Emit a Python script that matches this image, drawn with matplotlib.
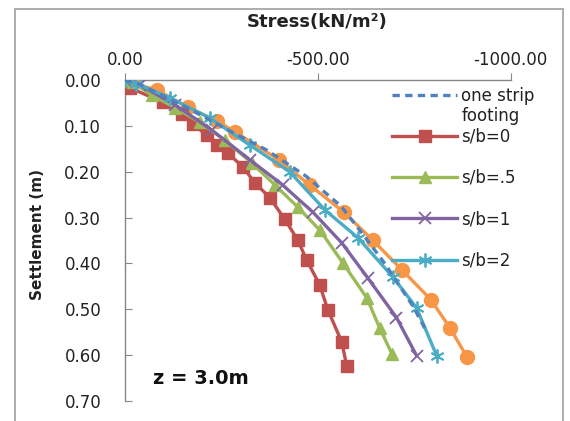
import matplotlib
matplotlib.use("Agg")
import matplotlib.pyplot as plt
from matplotlib.patches import Rectangle

# values
strip_stress = [0, -40, -160, -270, -368, -470, -560, -614, -676, -712, -748, -782]
strip_settle = [0, 0.01, 0.06, 0.11, 0.153, 0.21, 0.275, 0.333, 0.403, 0.449, 0.495, 0.549]

sb0_stress = [0, -13, -98, -148, -176, -212, -238, -267, -306, -337, -376, -414, -448, -471, -505, -526, -562, -575]
sb0_settle = [0, 0.017, 0.048, 0.074, 0.096, 0.12, 0.142, 0.159, 0.19, 0.224, 0.257, 0.303, 0.349, 0.392, 0.447, 0.501, 0.571, 0.623]

sb05_stress = [0, -20, -70, -130, -194, -259, -329, -389, -448, -505, -565, -627, -660, -692]
sb05_settle = [0, 0.005, 0.033, 0.06, 0.092, 0.131, 0.181, 0.229, 0.277, 0.327, 0.399, 0.475, 0.54, 0.597]

sb1_stress = [0, -39, -130, -225, -324, -409, -487, -562, -629, -704, -756]
sb1_settle = [0, 0.011, 0.054, 0.109, 0.174, 0.229, 0.288, 0.355, 0.431, 0.518, 0.601]

sb2_stress = [0, -30, -117, -220, -324, -427, -518, -604, -694, -756, -808]
sb2_settle = [0, 0.008, 0.039, 0.083, 0.142, 0.2, 0.283, 0.344, 0.429, 0.497, 0.601]

sb4_stress = [0, -21, -83, -163, -238, -285, -399, -479, -567, -642, -718, -793, -842, -886]
sb4_settle = [0, 0.007, 0.022, 0.059, 0.089, 0.113, 0.174, 0.229, 0.288, 0.349, 0.414, 0.479, 0.54, 0.603]

x_ticks = [0, -500, -1000]
y_ticks = [0, 0.1, 0.2, 0.3, 0.4, 0.5, 0.6, 0.7]

fig = plt.figure(figsize=(5.7, 4.21), dpi=100)
ax = fig.add_axes([0.219, 0.0475, 0.677, 0.7625])

lw = 2.4
ax.plot(sb4_stress, sb4_settle, color="#F79646", lw=lw, marker="o", ms=10, zorder=3)
ax.plot(sb0_stress, sb0_settle, color="#C0504D", lw=lw, marker="s", ms=8.5, label="s/b=0", zorder=4)
ax.plot(sb05_stress, sb05_settle, color="#9BBB59", lw=lw, marker="^", ms=9, label="s/b=.5", zorder=4)
ax.plot(sb1_stress, sb1_settle, color="#8064A2", lw=lw, marker="x", ms=9, mew=1.3, label="s/b=1", zorder=4)
ax.plot(sb2_stress, sb2_settle, color="#4BACC6", lw=lw, marker=(6, 2, 0), ms=10, mew=1.3, label="s/b=2", zorder=4)
strip_line, = ax.plot(strip_stress, strip_settle, color="#4F81BD", lw=lw, ls=(0, (2.2, 1.6)),
                      zorder=5)

ax.set_xlim(0, -1000)
ax.set_ylim(0.7, 0)
ax.set_xticks(x_ticks)
ax.set_xticklabels(["%.2f" % v for v in x_ticks])
ax.set_yticks(y_ticks)
ax.set_yticklabels(["%.2f" % v for v in y_ticks])
ax.xaxis.tick_top()
ax.tick_params(axis="x", direction="out", length=5, pad=3, colors="#868686",
               labelcolor="#222222", labelsize=12)
ax.tick_params(axis="y", direction="in", length=5, pad=17, colors="#868686",
               labelcolor="#222222", labelsize=12)
for s in ["right", "bottom"]:
    ax.spines[s].set_visible(False)
for s in ["left", "top"]:
    ax.spines[s].set_color("#868686")
    ax.spines[s].set_linewidth(1.0)

# legend for the strip footing, handle moved up to the first text line
leg1 = ax.legend([strip_line], ["one strip\nfooting"], loc="center left",
                 bbox_to_anchor=(0.693, 0.919), frameon=False, fontsize=12,
                 handlelength=3.9, handletextpad=0.25, borderpad=0, borderaxespad=0)
h = leg1.legend_handles[0]
h.set_ydata([v + 9 for v in h.get_ydata()])
ax.add_artist(leg1)

leg2 = ax.legend(loc="center left", bbox_to_anchor=(0.693, 0.631), frameon=False,
                 fontsize=12, handlelength=3.9, handletextpad=0.25,
                 labelspacing=1.4, borderpad=0, borderaxespad=0)
for lg in [leg1, leg2]:
    for t in lg.get_texts():
        t.set_color("#222222")

fig.text(0.557, 0.948, "Stress(kN/m²)", ha="center", va="center",
         fontsize=13, fontweight="bold", color="#222222")
fig.text(38 / 570, 1 - 235 / 421, "Settlement (m)", ha="center", va="center",
         rotation=90, fontsize=11, fontweight="bold", color="#222222")
fig.text(153 / 570, 1 - 378 / 421, "z = 3.0m", ha="left", va="center",
         fontsize=14, fontweight="bold", color="#111111")

# outer chart frame
fig.patches.append(Rectangle((15 / 570, -0.05), 548 / 570, 1.05 - 9 / 421,
                             transform=fig.transFigure, fill=False,
                             edgecolor="#A0A0A0", lw=1.2))

fig.savefig("out.png", dpi=100)
